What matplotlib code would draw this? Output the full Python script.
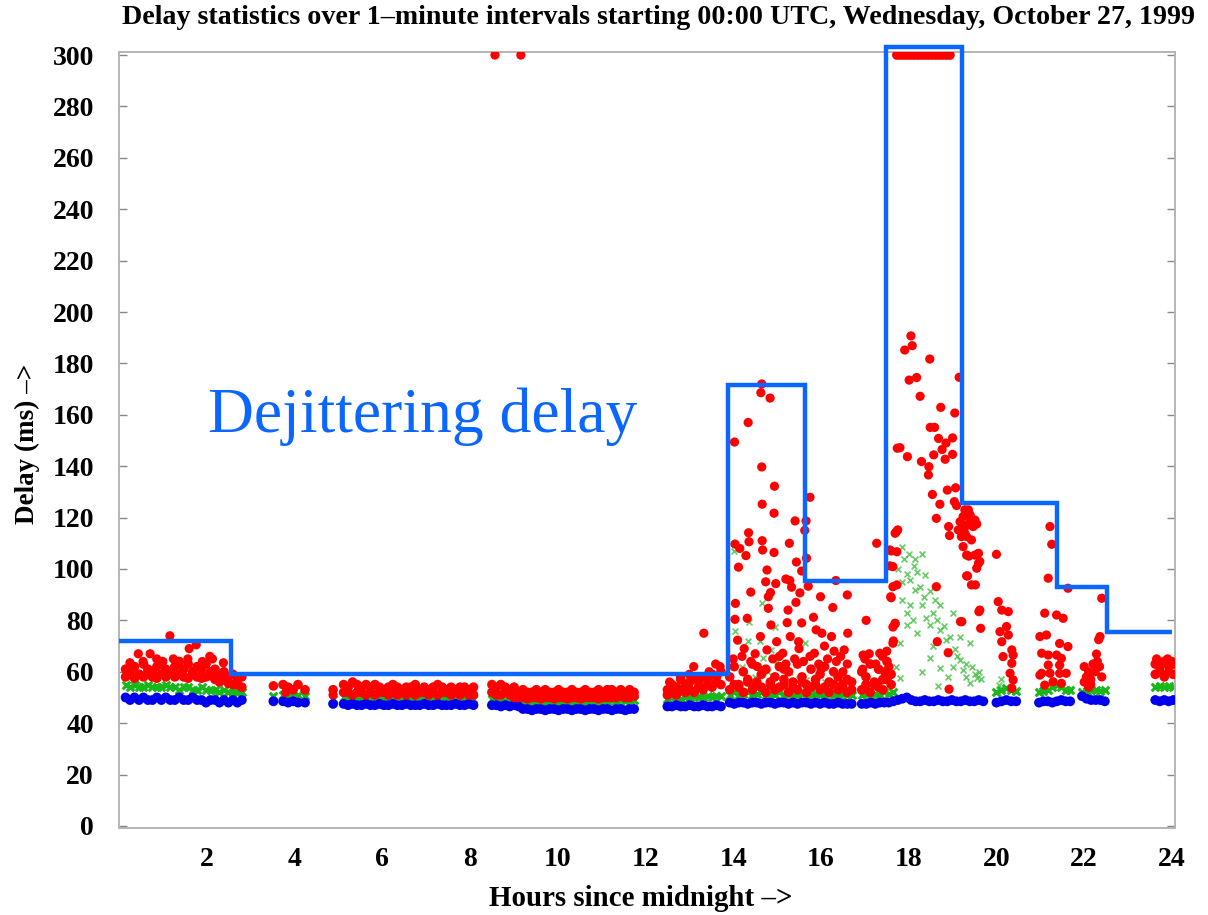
import numpy as np
import matplotlib
matplotlib.use("Agg")
import matplotlib.pyplot as plt

# ---------------- data ----------------
title = "Delay statistics over 1\u2013minute intervals starting 00:00 UTC, Wednesday, October 27, 1999"
x_label = "Hours since midnight \u2013>"
y_label = "Delay (ms) \u2013>"
x_ticks = [2, 4, 6, 8, 10, 12, 14, 16, 18, 20, 22, 24]
y_ticks = list(range(0, 301, 20))

# Dejittering delay (step line): edges in hours, levels in ms
dejitter_edges = [0, 2.55, 13.89, 15.64, 17.48, 19.21, 21.37, 22.51, 24.0]
dejitter_levels = [71.8, 59.3, 171.6, 95.4, 303, 125.6, 92.8, 75.4]

# Minimum delay (blue) bands: (start hour, end hour, values)
blue_bands = [
    (0.15, 2.80, [50, 49, 50, 49, 50, 49, 49, 50, 49, 50, 49, 49, 50, 49, 49, 50, 49, 49, 48, 49, 49, 48, 49, 48, 49, 48, 49]),
    (3.52, 3.52, [48.5]),
    (3.74, 3.97, [48.5, 48, 48.5]),
    (4.08, 4.24, [48, 48]),
    (4.88, 4.88, [47.5]),
    (5.12, 8.08, [47.5, 47, 47.5, 47, 47, 47.5, 47, 47, 47.5, 47, 47, 47.5, 47, 47, 47.5, 47, 47, 47, 47.5, 47, 47, 47.5, 47, 47, 47, 47.5, 47, 47, 47.5, 47]),
    (8.50, 11.74, [47, 47, 46.5, 47, 46.5, 47, 46.5, 45.5, 45.5, 45, 45.5, 45.5, 45, 45.5, 45.5, 45, 45.5, 45.5, 45, 45.5, 45.5, 45, 45.5, 45.5, 45, 45.5, 45.5, 45, 45.5, 45.5, 45, 45.5, 45.5]),
    (12.50, 13.72, [46.5, 46.5, 47, 46.5, 46.5, 47, 46.5, 46.5, 47, 46.5, 46.5, 47, 46.5]),
    (13.92, 16.70, [48, 47.5, 48, 48, 47.5, 48, 48, 47.5, 48, 48, 47.5, 48, 48, 47.5, 48, 47.5, 48, 48, 47.5, 48, 47.5, 48, 47.5, 47.5, 48, 47.5, 47.5, 47.5]),
    (16.93, 19.70, [47.5, 47.5, 48, 47.5, 48, 48, 48, 48.5, 49, 49.5, 50, 49, 48.5, 48.5, 49, 48.5, 48.5, 49, 48.5, 48.5, 49, 48.5, 48.5, 49, 48.5, 48.5, 49, 48.5]),
    (20.00, 20.45, [48, 48.5, 49, 48.5, 48.5]),
    (20.97, 21.68, [48, 48.5, 48.5, 48, 48.5, 49, 48.5, 48.5]),
    (21.95, 22.47, [50.5, 49.5, 49, 49, 49, 48.5]),
    (23.62, 24.03, [49, 48.5, 49, 48.5, 49]),
]

# Median delay (green) bands
green_bands = [
    (0.15, 2.80, [55, 54, 55, 54, 54, 55, 54, 54, 54, 55, 54, 54, 53, 54, 54, 53, 53, 54, 53, 53, 53, 52, 53, 52, 52, 52, 52]),
    (3.52, 3.52, [50.5]),
    (3.74, 3.97, [51, 51, 50.5]),
    (4.08, 4.24, [51, 50.5]),
    (4.88, 4.88, [49.5]),
    (5.12, 8.08, [50, 49.5, 50, 49.5, 50, 50, 49.5, 50, 49.5, 50, 50, 49.5, 50, 49.5, 50, 50, 49.5, 50, 49.5, 50, 50, 49.5, 50, 50, 49.5, 50, 49.5, 50, 50, 49.5]),
    (8.50, 11.74, [49.5, 49, 49, 48.5, 49, 48.5, 48, 48, 48.5, 48, 48, 48.5, 48, 48, 48.5, 48, 48, 48.5, 48, 48, 48.5, 48, 48.5, 48.5, 48, 48.5, 48.5, 49, 48.5, 49, 48.5, 49, 49]),
    (12.50, 13.72, [49.5, 50, 50, 49.5, 50, 50, 50.5, 50, 50, 50.5, 50, 50.5, 50.5]),
    (13.92, 16.70, [51, 52, 51, 51.5, 52, 51, 51.5, 52, 51, 51.5, 51, 52, 51, 51.5, 51, 51, 51.5, 51, 51, 51.5, 51, 51, 51.5, 51, 51, 51.5, 51, 51]),
    (16.93, 17.65, [51, 51.5, 51, 51.5, 51, 52, 51.5, 52]),
    (20.00, 20.45, [52, 53, 53.5, 53, 52.5]),
    (20.97, 21.68, [52, 52.5, 53, 54, 55, 54, 53, 53]),
    (21.95, 22.47, [52, 52.5, 53, 53, 52.5, 53]),
    (23.62, 24.03, [54, 54.5, 54, 54.5, 54]),
]

# Scattered median values (green x marks)
green_points = [
    (14.02, 107), (14.65, 86.6), (14.36, 79.5), (14.34, 71.8), (14.60, 71.8), (14.68, 65.3), (14.95, 77.4),
    (15.63, 71), (15.67, 56.7), (14.80, 60), (14.05, 76), (14.85, 68.5), (14.20, 62), (14.50, 58), (15.00, 64),
    (15.30, 60), (15.50, 57), (15.90, 58), (16.10, 56), (16.30, 55), (14.40, 55), (15.15, 55),
    (17.84, 108.6), (18.30, 106), (18.11, 101), (18.38, 97.6), (18.04, 95.6), (17.84, 95), (18.25, 93),
    (18.48, 91.6), (18.04, 85.8), (18.30, 85.8), (18.71, 85.8), (17.96, 82.7), (18.56, 82.7), (19.02, 82.7),
    (17.96, 78.2), (18.48, 78.2), (18.71, 76.3), (18.94, 73.7), (19.17, 73.7), (17.80, 71), (19.40, 71),
    (18.86, 72.3), (18.48, 65.3), (18.71, 61.4), (19.17, 64.6), (19.24, 60.7), (19.55, 57.5), (19.40, 55.6),
    (18.67, 54.3), (17.80, 57.5), (17.90, 104), (18.00, 106), (18.15, 104), (18.20, 99), (17.75, 100),
    (17.95, 98), (18.15, 92), (18.35, 89), (18.60, 88), (18.40, 81), (18.10, 80), (18.65, 80), (18.80, 78),
    (18.90, 68), (19.05, 69), (19.10, 66), (19.30, 63), (19.45, 62), (19.50, 59), (19.30, 58), (19.60, 60),
    (19.65, 57), (18.55, 70), (18.20, 75), (17.85, 88), (17.70, 62), (18.90, 58), (19.00, 62), (18.30, 60),
    (20.05, 55), (20.10, 57),
]

# Maximum delay (red) core bands, two rows each
red_bands = [
    (0.15, 2.80, [61, 60, 62, 59, 63, 61, 60, 62, 63, 61, 60, 62, 64, 61, 63, 60, 62, 61, 63, 60, 61, 59, 60, 58, 59, 57, 58]),
    (0.15, 2.80, [58, 59, 57.5, 59, 58, 60, 58, 57.5, 59, 58, 60, 58, 59, 58, 57.5, 59, 58, 57.5, 58, 58.5, 57, 56, 57, 55.5, 55, 55, 54]),
    (3.52, 3.52, [54.5]),
    (3.74, 3.97, [55, 54, 53]),
    (4.08, 4.24, [55, 53]),
    (4.88, 4.88, [53]),
    (5.12, 8.08, [55, 54, 56, 55, 54, 55, 54, 55, 54, 53, 54, 55, 54, 53, 54, 54, 55, 53, 54, 53, 54, 55, 54, 53, 54, 53, 54, 54, 53, 54]),
    (5.12, 8.08, [52, 52, 51, 52, 52, 51, 52, 51, 52, 52, 51, 52, 51, 52, 51, 52, 51, 52, 52, 51, 52, 51, 52, 52, 51, 52, 51, 52, 51, 51]),
    (8.50, 11.74, [55, 54, 55, 54, 53, 54, 52, 53, 52, 52, 53, 52, 53, 52, 52, 53, 52, 52, 53, 52, 52, 53, 52, 52, 53, 52, 53, 53, 52, 53, 52, 53, 52]),
    (8.50, 11.74, [52, 51, 51, 52, 51, 50, 50, 50, 49.5, 50, 50, 49.5, 50, 50, 49.5, 50, 50, 49.5, 50, 50, 49.5, 50, 50, 50, 49.5, 50, 50, 50, 50, 50.5, 50, 50, 50.5]),
    (12.50, 13.72, [53, 55, 54, 57, 55, 56, 58, 56, 58, 57, 59, 58, 60]),
    (12.50, 13.72, [51, 52, 51, 53, 52, 53, 52, 54, 53, 55, 54, 56, 55]),
    (13.92, 16.70, [58, 62, 55, 60, 57, 63, 56, 59, 61, 55, 58, 62, 57, 60, 56, 63, 58, 55, 61, 57, 59, 62, 56, 60, 58, 55, 57, 56]),
    (13.92, 16.70, [53, 55, 54, 52, 56, 53, 55, 54, 52, 56, 53, 54, 55, 52, 54, 53, 56, 52, 54, 55, 53, 54, 52, 55, 53, 54, 52, 53]),
    (16.93, 17.60, [60, 58, 63, 55, 61, 57, 64, 59]),
    (16.93, 17.60, [53, 55, 52, 56, 54, 53, 57, 55]),
    (23.62, 24.03, [63, 62, 64, 62, 63]),
    (23.62, 24.03, [59, 60, 58, 60, 59]),
    (17.73, 18.94, [300, 300, 300, 300, 300, 300, 300, 300, 300, 300, 300, 300, 300, 300, 300, 300]),
]

# Individual red (maximum) points
red_points = [
    (0.44, 67), (0.71, 67), (0.86, 65), (1.16, 74), (1.24, 65), (1.57, 65), (1.60, 69), (1.76, 70.5),
    (2.07, 66), (2.13, 65), (2.38, 63.5), (0.25, 63.5), (1.00, 64), (1.35, 63), (1.90, 64), (0.55, 64),
    (3.80, 52), (4.88, 51), (8.57, 300), (9.16, 300),
    (12.55, 56), (12.80, 58), (13.00, 59), (13.10, 62), (13.45, 60), (13.60, 63), (13.70, 62), (13.20, 57),
    (14.65, 172), (14.63, 168.6), (14.84, 166.5), (14.34, 157), (14.03, 149.4), (14.65, 139.7), (14.94, 132.2),
    (14.66, 125.2), (14.93, 121.7), (15.75, 127.9), (15.41, 118.7), (15.66, 118.7), (15.63, 115), (14.35, 114.1),
    (14.36, 110.6), (14.04, 109.7), (14.15, 108), (14.66, 111), (14.67, 107.4), (14.93, 106.4), (15.28, 110),
    (14.29, 105.2), (15.44, 102.7), (14.12, 100.7), (14.77, 99.6), (15.56, 99.2), (15.67, 104.2), (15.20, 96.1),
    (15.29, 95.5), (14.74, 95), (14.97, 94.3), (15.33, 92.9), (14.85, 90.8), (14.40, 91), (14.80, 89.2),
    (15.52, 90.7), (15.43, 87), (15.71, 93.3), (16.34, 95.5), (15.99, 89.2), (16.60, 89.9), (16.27, 85),
    (14.05, 86.6), (14.80, 84.7), (15.25, 84), (14.32, 80.8), (14.04, 80.4), (14.86, 78.2), (15.23, 79.1),
    (15.56, 79), (15.83, 81.2), (15.89, 76.3), (13.33, 75), (16.61, 75), (14.62, 73.7), (14.99, 71.7),
    (15.30, 73.7), (15.49, 71.7), (16.02, 75), (16.24, 73.7), (14.10, 72.3), (16.53, 68.5), (16.08, 70),
    (15.85, 67.2), (15.13, 67.2), (14.77, 68.5), (16.96, 66.5), (17.34, 67.2),
    (14.00, 65), (14.20, 66), (14.40, 64), (14.50, 67), (14.90, 65), (15.05, 66), (15.20, 63), (15.40, 65),
    (15.60, 64), (15.75, 66), (15.95, 63), (16.15, 65), (16.35, 64), (16.45, 66), (16.60, 63), (14.25, 69),
    (15.50, 69), (16.30, 68), (14.55, 62), (15.15, 61), (16.00, 61), (16.50, 60),
    (17.27, 110), (17.74, 147), (17.69, 113.9), (17.73, 106.7), (17.60, 107), (17.64, 100.9), (17.60, 88.8),
    (17.64, 93.1), (17.69, 78.9), (17.65, 72), (18.05, 190.7), (18.08, 186.9), (17.91, 185.2), (18.48, 181.7),
    (18.01, 173.5), (18.18, 174.5), (19.15, 174.6), (18.26, 167.2), (18.73, 162.9), (19.05, 160.7),
    (18.49, 155.1), (18.59, 155.1), (18.68, 150.8), (19.00, 151), (18.85, 149), (17.80, 147.2), (18.76, 146.5),
    (17.97, 143.7), (18.57, 144.4), (19.00, 144.6), (18.29, 141.8), (18.46, 139.8), (18.83, 142.7),
    (18.45, 136.6), (18.54, 129), (18.88, 130.7), (19.07, 131.6), (18.71, 125.2), (19.04, 126.2),
    (18.63, 119.7), (19.09, 124.7), (19.36, 123), (19.24, 120.4), (19.47, 119.1), (19.17, 118.4), (19.40, 118.4),
    (19.28, 116.5), (19.13, 115.2), (19.55, 117.5), (19.32, 112.6), (19.20, 112.6), (19.43, 111.3),
    (19.24, 108.7), (18.91, 116.5), (18.93, 113), (17.75, 115.2), (17.71, 114.3), (17.57, 107.4),
    (17.57, 101.2), (19.59, 106.1), (19.59, 102.2), (19.37, 105), (19.34, 97.3), (19.52, 93.8), (17.73, 93.8),
    (18.63, 93.1), (17.59, 89.2), (19.60, 83.4), (19.18, 79.5), (19.64, 76.9), (17.69, 78.6), (17.64, 77.4),
    (18.65, 71.7), (17.64, 71.1), (18.90, 67.4), (18.92, 53.2),
    (19.28, 123), (19.40, 121), (19.51, 119), (19.32, 117), (19.47, 116.5), (19.28, 113.9), (19.51, 105.4),
    (19.32, 105.4), (19.62, 102.9), (19.55, 100.3), (19.32, 97.3), (19.43, 93.8), (19.62, 84), (19.21, 79.5),
    (17.00, 65), (17.10, 67), (17.25, 63), (17.40, 66), (17.50, 68), (17.55, 62), (16.95, 61), (17.45, 60),
    (17.03, 80),
    (20.00, 105.7), (20.04, 87.3), (20.12, 84), (20.27, 83.4), (20.08, 75.6), (20.23, 77.6), (20.27, 74.3),
    (20.12, 71.7), (20.35, 68.5), (20.38, 66.5), (20.15, 65.9), (20.35, 63.3), (20.31, 59.4), (20.38, 56.8),
    (20.35, 53.6),
    (21.22, 116.5), (21.26, 109.6), (21.18, 96.4), (21.63, 92.5), (21.10, 82.8), (21.37, 82.1), (21.52, 80.8),
    (21.14, 74.3), (20.99, 73.7), (21.44, 71), (21.63, 69.8), (21.03, 67.2), (21.18, 66.5), (21.37, 66.5),
    (21.48, 65.2), (21.18, 62.6), (21.44, 62.6), (21.03, 59.4), (21.22, 59.4), (21.44, 59.4), (21.59, 59.4),
    (21.29, 56.1), (21.48, 55.5), (21.10, 54.8), (20.99, 58.7),
    (22.40, 88.6), (22.36, 73.7), (22.33, 72.5), (22.28, 66.9), (22.00, 62), (22.05, 58), (22.10, 60),
    (22.15, 57), (22.20, 63), (22.25, 60), (22.30, 64), (22.35, 62), (22.00, 56), (22.15, 55), (22.40, 58),
    (22.10, 54),
    (23.65, 65), (23.90, 65), (24.00, 64),
]

# ---------------- styling ----------------
BLUE_LINE = "#0a66ff"
RED = "#ff0000"
GREEN = "#19b819"
BLUE = "#0000ee"
SERIF = ["Liberation Serif", "DejaVu Serif"]


def band_xy(bands):
    xs, ys = [], []
    for start, end, vals in bands:
        xs.extend(np.linspace(start, end, len(vals)))
        ys.extend(vals)
    return np.array(xs), np.array(ys)


fig = plt.figure(figsize=(12.08, 9.15), dpi=100)
ax = fig.add_axes([0.0985, 0.0951, 0.8742, 0.8481])

bx, by = band_xy(blue_bands)
gx, gy = band_xy(green_bands)
rx, ry = band_xy(red_bands)
gpx, gpy = zip(*green_points)
rpx, rpy = zip(*red_points)

ax.scatter(gx, gy, marker="x", s=30, linewidths=2.2, color=GREEN, zorder=2)
ax.scatter(gpx, gpy, marker="x", s=18, linewidths=1.2, color="#33bb33", alpha=0.75, zorder=2)
ax.scatter(bx, by, s=50, color=BLUE, edgecolors="none", zorder=3)
ax.scatter(rx, ry, s=48, color=RED, edgecolors="none", zorder=4)
ax.scatter(rpx, rpy, s=44, color=RED, edgecolors="none", zorder=4)

ax.stairs(dejitter_levels, dejitter_edges, baseline=None, color=BLUE_LINE,
          linewidth=3.2, zorder=5, clip_on=False)

ax.text(2.03, 153.3, "Dejittering delay", color=BLUE_LINE, fontsize=45.8,
        family=SERIF, ha="left", va="baseline")

ax.set_xlim(0, 24.07)
ax.set_ylim(-0.8, 301.2)
ax.set_xticks(x_ticks)
ax.set_yticks(y_ticks)
ax.set_xticklabels([str(t) for t in x_ticks])
ax.set_yticklabels([str(t) for t in y_ticks])
ax.tick_params(axis="y", which="both", direction="in", length=6, width=1.0,
               color="#888888", left=True, right=True, pad=18)
ax.tick_params(axis="x", length=0, pad=14)
for lab in ax.get_xticklabels() + ax.get_yticklabels():
    lab.set_fontfamily(SERIF)
    lab.set_fontweight("bold")
    lab.set_fontsize(20)

for sp in ax.spines.values():
    sp.set_color("#b5b5b5")
    sp.set_linewidth(1.4)

fig.text(659 / 1208, 1 - 18 / 915, title, ha="center", va="center",
         family=SERIF, fontweight="bold", fontsize=20.2)
fig.text(641 / 1208, 1 - 898 / 915, x_label, ha="center", va="center",
         family=SERIF, fontweight="bold", fontsize=20.8)
fig.text(27 / 1208, 1 - 444 / 915, y_label, ha="center", va="center", rotation=90,
         family=SERIF, fontweight="bold", fontsize=19.5)

fig.savefig("out.png", dpi=100)
